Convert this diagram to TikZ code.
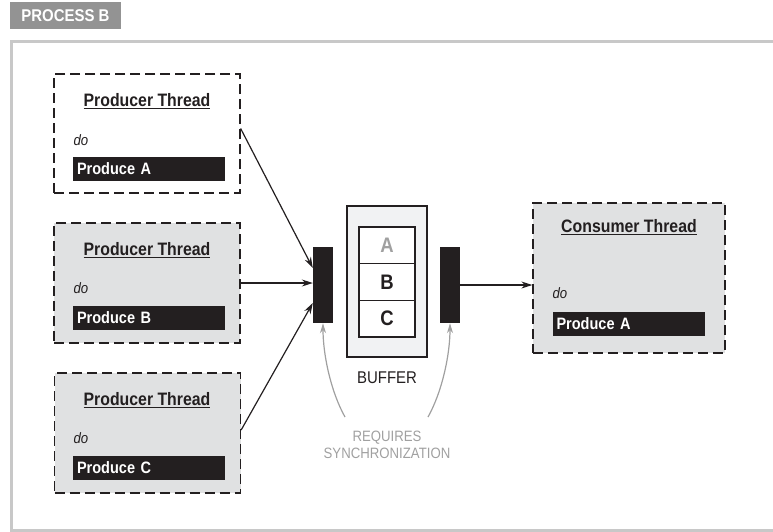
\documentclass[tikz,border=0pt]{standalone}
\usepackage{fontspec}
\setmainfont{Liberation Sans}[FakeStretch=0.88]
\usetikzlibrary{arrows.meta,calc}
\definecolor{ink}{HTML}{231F20}
\definecolor{framegray}{HTML}{C8C8C8}
\definecolor{tabgray}{HTML}{939393}
\definecolor{boxgray}{HTML}{E0E1E2}
\definecolor{bufgray}{HTML}{F1F2F3}
\definecolor{syncgray}{HTML}{A0A0A0}
\tikzset{
  thread/.style={draw=ink, line width=1.3pt, dash pattern=on 10pt off 5pt, minimum width=186pt, inner sep=0pt},
  ttitle/.style={font=\fontsize{18}{20}\selectfont\bfseries, text=ink},
  dotext/.style={font=\fontsize{15}{17}\selectfont\itshape, text=ink, anchor=west},
  bar/.style={fill=ink, text=white, font=\fontsize{16.5}{18}\selectfont\bfseries, minimum width=152pt, minimum height=24pt, inner sep=4pt, text width=144pt, align=left},
  syncbar/.style={fill=ink, minimum width=20pt, minimum height=76pt, inner sep=0pt},
  cell/.style={draw=ink, line width=1.2pt, fill=white, minimum width=56pt, minimum height=36.7pt, inner sep=0pt, font=\fontsize{21}{23}\selectfont\bfseries},
  arr/.style={draw=ink, line width=1.2pt, -{Stealth[length=11pt,width=7pt]}},
  syncarr/.style={draw=syncgray, line width=1.2pt, -{Stealth[length=10pt,width=6pt]}},
}
\begin{document}
\begin{tikzpicture}[x=1pt,y=-1pt]
\useasboundingbox (0,0) rectangle (773,531);
% outer frame and tab
\draw[framegray, line width=3pt] (780,41) -- (11,41) -- (11,530) -- (780,530);
\node[fill=tabgray, minimum width=111pt, minimum height=27pt, inner sep=0pt, text=white, font=\fontsize{17}{19}\selectfont\bfseries] (tab) at (65.5,15.5) {PROCESS B};
% producer threads
\node[thread, fill=white, minimum height=119pt] (pa) at (147,133.5) {};
\node[thread, fill=boxgray, minimum height=120pt] (pb) at (147,283) {};
\node[thread, fill=boxgray, minimum height=120pt] (pc) at (147.5,433) {};
\node[ttitle] (pat) at (147,101) {\underline{Producer Thread}};
\node[dotext] (pad) at (70,140) {do};
\node[bar] (pab) at (149,169) {Produce A};
\node[ttitle] (pbt) at (147,250) {\underline{Producer Thread}};
\node[dotext] (pbd) at (70,288) {do};
\node[bar] (pbb) at (149,317.5) {Produce B};
\node[ttitle] (pct) at (147,400) {\underline{Producer Thread}};
\node[dotext] (pcd) at (70,438) {do};
\node[bar] (pcb) at (149,468) {Produce C};
% consumer
\node[thread, fill=boxgray, minimum width=192pt, minimum height=150pt] (cons) at (629,278) {};
\node[ttitle] (ct) at (629,227) {\underline{Consumer Thread}};
\node[dotext] (cd) at (549,293) {do};
\node[bar] (cb) at (628.5,324) {Produce A};
% sync bars
\node[syncbar] (lbar) at (323,285) {};
\node[syncbar] (rbar) at (450,285) {};
% buffer
\node[draw=ink, line width=1.3pt, fill=bufgray, minimum width=80pt, minimum height=151pt, inner sep=0pt] (buf) at (387,281.5) {};
\node[cell, text=syncgray] (ca) at (387,245.3) {A};
\node[cell, text=ink] (cbb) at (387,282) {B};
\node[cell, text=ink] (cc) at (387,318.7) {C};
\node[font=\fontsize{17}{19}\selectfont, text=ink] (buflab) at (387,378) {BUFFER};
\node[font=\fontsize{15}{17}\selectfont, text=syncgray, align=center] (req) at (387,445) {REQUIRES\\SYNCHRONIZATION};
% arrows
\draw[arr] ($(pa.east)+(0,-5)$) -- ($(lbar.west)+(0,-17)$);
\draw[arr] (pb.east) -- (lbar.west |- pb.east);
\draw[arr] ($(pc.east)+(0,-3)$) -- ($(lbar.west)+(0,18)$);
\draw[arr] (rbar.east) -- (cons.west |- rbar.east);
\coordinate (s1) at (345,417);
\coordinate (s2) at (428,417);
\draw[syncarr] (s1) .. controls (331,392) and (323,355) .. (lbar.south);
\draw[syncarr] (s2) .. controls (442,392) and (450,355) .. (rbar.south);
\end{tikzpicture}
\end{document}
